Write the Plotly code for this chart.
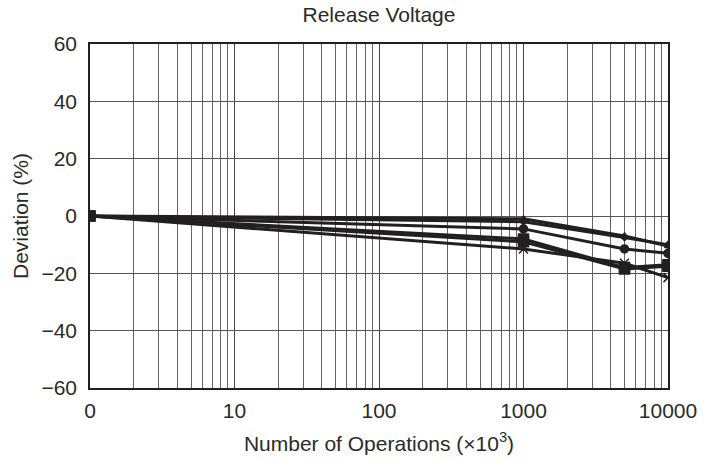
import plotly.graph_objects as go

ops = [1, 1000, 5000, 10000]
tick_vals = [1, 10, 100, 1000, 10000]
tick_text = ["0", "10", "100", "1000", "10000"]

s_tri = [0, -1.0, -7.0, -10.5]
s_dia = [0, -2.0, -7.5, -10.0]
s_circ = [0, -4.5, -11.5, -13.0]
s_sq1 = [0, -8.0, -18.0, -17.0]
s_sq2 = [0, -9.0, -18.5, -17.5]
s_x = [0, -11.5, -16.5, -21.5]

series = [
    (s_tri, "triangle-up", 6),
    (s_dia, "diamond", 5),
    (s_circ, "circle", 8),
    (s_sq1, "square", 10),
    (s_sq2, "square", 10),
    (s_x, "x-thin-open", 9),
]

fig = go.Figure()
for vals, sym, sz in series:
    fig.add_trace(go.Scatter(
        x=ops, y=vals, mode="lines+markers",
        line=dict(color="#231f20", width=3),
        marker=dict(symbol=sym, size=sz, color="#231f20",
                    line=dict(color="#231f20", width=1.5)),
        showlegend=False))

minor_vals = [d * k for d in [1, 10, 100, 1000] for k in range(2, 10)]

W, H = 715, 461
font = "Liberation Sans, Arial, sans-serif"
fig.update_layout(
    width=W, height=H,
    margin=dict(l=90, r=47, t=44, b=73),
    paper_bgcolor="white", plot_bgcolor="white",
    font=dict(family=font, size=21, color="#2a2a2a"),
    title=dict(text="Release Voltage", x=0.5, xref="paper", y=1 - 15 / H,
               yref="container", yanchor="middle", xanchor="center",
               font=dict(size=21)),
    xaxis=dict(type="log", range=[0, 4], tickvals=tick_vals, ticktext=tick_text,
               showgrid=True, gridcolor="#444", gridwidth=1,
               minor=dict(tickvals=minor_vals, showgrid=True, gridcolor="#666",
                          gridwidth=1, ticks=""),
               showline=True, mirror=True, linecolor="#231f20", linewidth=1.5,
               ticks="", zeroline=False, automargin=False, ticklabelstandoff=3,
               title=dict(text="Number of Operations (×10<sup>3</sup>)", standoff=15,
                          font=dict(size=21))),
    yaxis=dict(range=[-60, 60], tickvals=[-60, -40, -20, 0, 20, 40, 60],
               showgrid=True, gridcolor="#555", gridwidth=1,
               showline=True, mirror=True, linecolor="#231f20", linewidth=1.5,
               ticks="", zeroline=False, automargin=False, ticklabelstandoff=7,
               title=dict(text="Deviation (%)", standoff=7, font=dict(size=21))),
)

fig.write_html("out.html", config={"displayModeBar": False},
               post_script="document.body.style.margin='0';")
